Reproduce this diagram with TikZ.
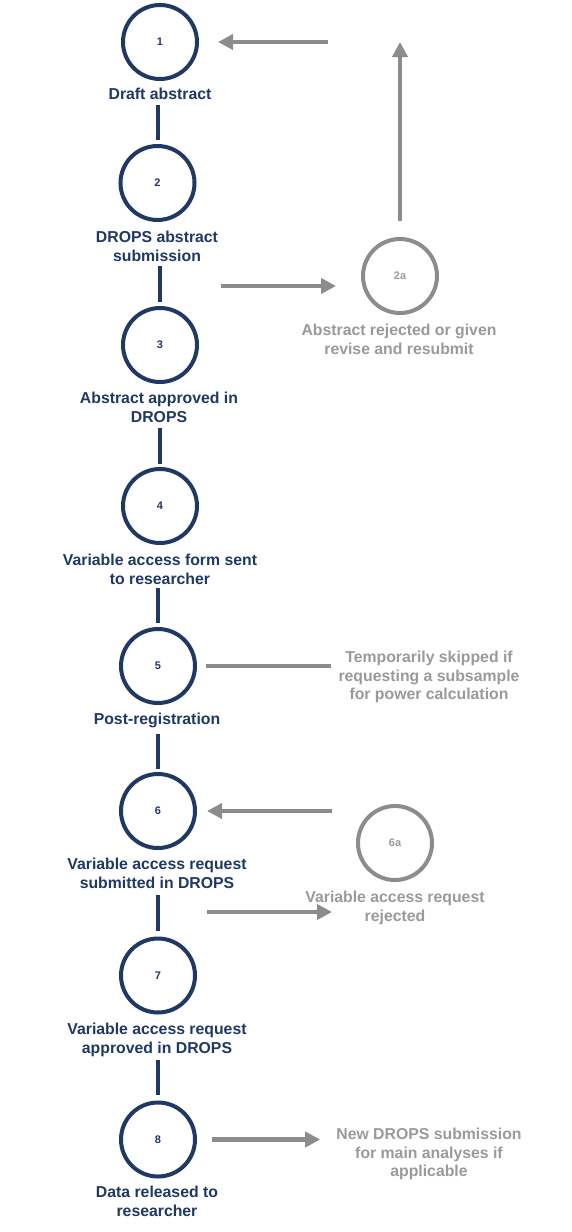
\documentclass[tikz,border=0pt]{standalone}
\usepackage{fontspec}
\setmainfont{Liberation Sans}
\usetikzlibrary{arrows.meta}
\definecolor{navy}{HTML}{1F3864}
\definecolor{gline}{HTML}{8C8C8C}
\definecolor{gtext}{HTML}{9A9A9A}
\begin{document}
\begin{tikzpicture}[x=1pt,y=-1pt,
  stepcirc/.style={circle,draw=navy,line width=4pt,minimum size=74pt,inner sep=0pt,outer sep=0pt,
    text=navy,font=\fontsize{11}{13}\selectfont\bfseries},
  altcirc/.style={stepcirc,draw=gline,text=gtext},
  steplab/.style={anchor=north,align=center,inner sep=0pt,text=navy,
    font=\fontsize{15.8}{18.5}\selectfont\bfseries},
  altlab/.style={steplab,text=gtext},
  link/.style={draw=navy,line width=4pt},
  garrow/.style={draw=gline,line width=4.3pt,-{Triangle[length=15pt,width=15pt]}},
  gline/.style={draw=gline,line width=4.3pt}]
\useasboundingbox[fill=white] (0,0) rectangle (572,1232);
% main steps
\node[stepcirc] (c1) at (160,42) {1};
\node[steplab] (l1) at (160,88) {Draft abstract};
\node[stepcirc] (c2) at (157.5,183) {2};
\node[steplab] (l2) at (157,231) {DROPS abstract\\submission};
\node[stepcirc] (c3) at (160,345) {3};
\node[steplab] (l3) at (159,392) {Abstract approved in\\DROPS};
\node[stepcirc] (c4) at (160,506) {4};
\node[steplab] (l4) at (160,554) {Variable access form sent\\to researcher};
\node[stepcirc] (c5) at (158,666) {5};
\node[steplab] (l5) at (157,713) {Post-registration};
\node[stepcirc] (c6) at (158,811) {6};
\node[steplab] (l6) at (157,858) {Variable access request\\submitted in DROPS};
\node[stepcirc] (c7) at (158,975.5) {7};
\node[steplab] (l7) at (157,1023) {Variable access request\\approved in DROPS};
\node[stepcirc] (c8) at (158,1139.5) {8};
\node[steplab] (l8) at (157,1186) {Data released to\\researcher};
% side nodes
\node[altcirc] (c2a) at (400,276) {2a};
\node[altlab] (l2a) at (399,324) {Abstract rejected or given\\revise and resubmit};
\node[altlab] (t5) at (429,651) {Temporarily skipped if\\requesting a subsample\\for power calculation};
\node[altcirc] (c6a) at (395,843) {6a};
\node[altlab] (l6a) at (395,891) {Variable access request\\rejected};
\node[altlab] (t8) at (429,1128) {New DROPS submission\\for main analyses if\\applicable};
% vertical links
\draw[link,shorten <=63pt,shorten >=43pt] (c1 -| c2) -- (c2.center);
\draw[link,shorten <=83pt,shorten >=43pt] (c2 -| c3) -- (c3.center);
\draw[link,shorten <=83pt,shorten >=42pt] (c3 -| c4) -- (c4.center);
\draw[link,shorten <=82pt,shorten >=43pt] (c4 -| c5) -- (c5.center);
\draw[link,shorten <=68pt,shorten >=42pt] (c5 -| c6) -- (c6.center);
\draw[link,shorten <=84pt,shorten >=44.5pt] (c6 -| c7) -- (c7.center);
\draw[link,shorten <=84.5pt,shorten >=44.5pt] (c7 -| c8) -- (c8.center);
% gray connectors
\coordinate (g1s) at (221,286);
\coordinate (g1e) at (336,286);
\draw[garrow] (g1s) -- (g1e);
\draw[garrow,shorten <=18pt] (c2a.north) -- (c2a.north |- c1);
\draw[garrow,shorten <=72pt,shorten >=21pt] (c2a |- c1) -- (c1.east);
\draw[gline,shorten <=11pt,shorten >=7pt] (c5.east) -- (c5.east -| t5.west);
\coordinate (g5s) at (332,811);
\draw[garrow,shorten >=12pt] (g5s) -- (c6.east);
\coordinate (g6s) at (207,912);
\coordinate (g6e) at (332,912);
\draw[garrow] (g6s) -- (g6e);
\draw[garrow,shorten <=17pt,shorten >=16pt] (c8.east) -- (c8.east -| t8.west);
\end{tikzpicture}
\end{document}
